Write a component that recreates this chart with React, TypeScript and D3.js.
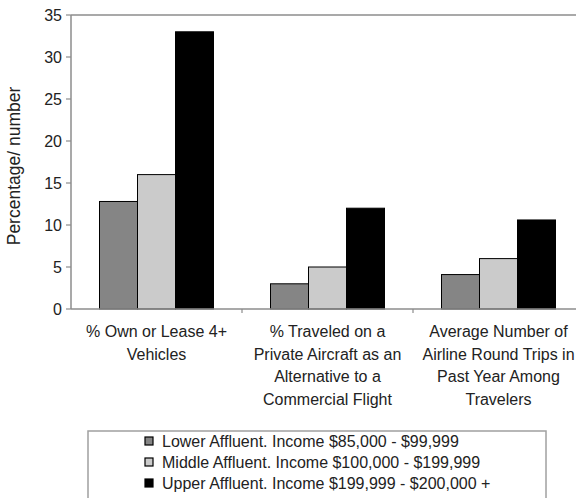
import React, { useEffect } from "react";
import * as d3 from "d3";

const categories = [
  ["% Own or Lease 4+", "Vehicles"],
  ["% Traveled on a", "Private Aircraft as an", "Alternative to a", "Commercial Flight"],
  ["Average Number of", "Airline Round Trips in", "Past Year Among", "Travelers"],
];
const seriesNames = [
  "Lower Affluent. Income $85,000 - $99,999",
  "Middle Affluent. Income $100,000 - $199,999",
  "Upper Affluent. Income $199,999 - $200,000 +",
];
const lowerValues = [12.8, 3, 4.1];
const middleValues = [16, 5, 6];
const upperValues = [33, 12, 10.6];
const yTicks = [0, 5, 10, 15, 20, 25, 30, 35];
const yTitle = "Percentage/ number";

const seriesColors = ["#858585", "#cbcbcb", "#000000"];
const FONT = "'Liberation Sans', Arial, sans-serif";

export default function App() {
  useEffect(() => {
    document.body.style.margin = "0";
  }, []);

  const W = 576, H = 498;
  const left = 71, right = 584, top = 15, bottom = 309;
  const catKeys = categories.map((_, i) => String(i));
  const x0 = d3.scaleBand<string>().domain(catKeys).range([left, right]).padding(0);
  const x1 = d3
    .scaleBand<string>()
    .domain(["0", "1", "2"])
    .range([0, x0.bandwidth()])
    .paddingInner(0)
    .paddingOuter(0.75);
  const y = d3.scaleLinear().domain([0, 35]).range([bottom, top]);
  const allValues = [lowerValues, middleValues, upperValues];
  const axisColor = "#8c8c8c";

  return (
    <svg
      width={W}
      height={H}
      style={{ position: "absolute", left: 0, top: 0, background: "#fff" }}
      fontFamily={FONT}
    >
      <rect x={0} y={0} width={W} height={H} fill="#fff" />
      {/* plot border top */}
      <line x1={left} x2={right} y1={top} y2={top} stroke={axisColor} strokeWidth={1.5} />
      {/* bars */}
      {catKeys.map((c, ci) =>
        allValues.map((vals, si) => (
          <rect
            key={c + "-" + si}
            x={(x0(c) as number) + (x1(String(si)) as number)}
            y={y(vals[ci])}
            width={x1.bandwidth()}
            height={bottom - y(vals[ci])}
            fill={seriesColors[si]}
            stroke="#000"
            strokeWidth={1}
          />
        ))
      )}
      {/* y axis */}
      <line x1={left} x2={left} y1={top} y2={bottom} stroke={axisColor} strokeWidth={1.5} />
      {yTicks.map((t) => (
        <g key={t}>
          <line x1={left - 5} x2={left} y1={y(t)} y2={y(t)} stroke={axisColor} strokeWidth={1.2} />
          <text
            x={left - 9}
            y={y(t)}
            dy="0.36em"
            textAnchor="end"
            fontSize={16}
            fill="#222"
          >
            {t}
          </text>
        </g>
      ))}
      {/* x axis */}
      <line x1={left} x2={right} y1={bottom} y2={bottom} stroke={axisColor} strokeWidth={1.5} />
      {catKeys.map((c) => (
        <line
          key={"t" + c}
          x1={(x0(c) as number) + x0.bandwidth()}
          x2={(x0(c) as number) + x0.bandwidth()}
          y1={bottom}
          y2={bottom + 4}
          stroke={axisColor}
          strokeWidth={1.2}
        />
      ))}
      {categories.map((lines, ci) => (
        <text
          key={"c" + ci}
          x={(x0(String(ci)) as number) + x0.bandwidth() / 2}
          textAnchor="middle"
          fontSize={16}
          fill="#222"
        >
          {lines.map((ln, li) => (
            <tspan key={li} x={(x0(String(ci)) as number) + x0.bandwidth() / 2} y={337 + li * 22.7}>
              {ln}
            </tspan>
          ))}
        </text>
      ))}
      {/* y title */}
      <text
        transform={`translate(20, ${(top + bottom) / 2 + 4}) rotate(-90)`}
        textAnchor="middle"
        fontSize={17.5}
        fill="#222"
      >
        {yTitle}
      </text>
      {/* legend */}
      <rect x={88} y={431} width={458} height={80} fill="#fff" stroke="#a0a0a0" strokeWidth={1.5} />
      {seriesNames.map((name, i) => (
        <g key={name}>
          <rect
            x={145}
            y={437 + i * 21}
            width={8}
            height={8}
            fill={seriesColors[i]}
            stroke="#000"
            strokeWidth={1.2}
          />
          <text x={162} y={447 + i * 21} fontSize={16} fill="#222">
            {name}
          </text>
        </g>
      ))}
    </svg>
  );
}
